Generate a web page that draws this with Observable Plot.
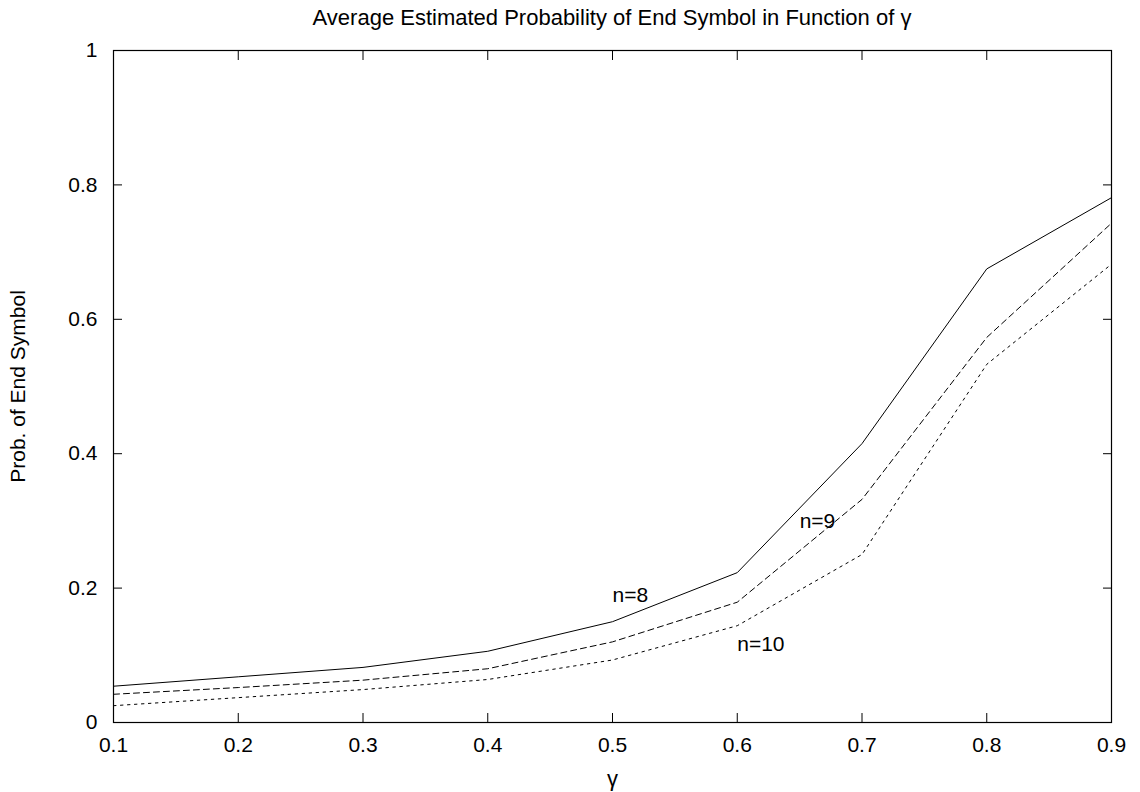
<!DOCTYPE html>
<html>
<head>
<meta charset="utf-8">
<script src="https://cdn.jsdelivr.net/npm/d3@7"></script>
<script src="https://cdn.jsdelivr.net/npm/@observablehq/plot@0.6"></script>
<style>
  html, body { margin: 0; padding: 0; background: #fff; }
  #title { font-family: "Liberation Sans", Arial, sans-serif; font-size: 22px; height: 36px; line-height: 36px;
           padding-left: 113px; width: 998px; text-align: center; color: #000; }
  svg { display: block; }
</style>
</head>
<body>
<div id="title"></div>
<div id="chart"></div>
<script>
const titleText = "Average Estimated Probability of End Symbol in Function of γ";
const xLabel = "γ";
const yLabel = "Prob. of End Symbol";

const gamma = [0.1, 0.2, 0.3, 0.4, 0.5, 0.6, 0.7, 0.8, 0.9];
const n8  = [0.054, 0.068, 0.082, 0.106, 0.150, 0.223, 0.415, 0.675, 0.781];
const n9  = [0.042, 0.052, 0.063, 0.080, 0.120, 0.179, 0.332, 0.573, 0.743];
const n10 = [0.025, 0.037, 0.049, 0.064, 0.093, 0.144, 0.250, 0.533, 0.682];

const xTicks = [0.1, 0.2, 0.3, 0.4, 0.5, 0.6, 0.7, 0.8, 0.9];
const yTicks = [0, 0.2, 0.4, 0.6, 0.8, 1];

const seriesLabels = ["n=8", "n=9", "n=10"];
const labelX = [0.5, 0.65, 0.6];
const labelY = [0.19, 0.30, 0.117];

document.getElementById("title").textContent = titleText;

const rows = (ys) => gamma.map((g, i) => ({x: g, y: ys[i]}));
const labels = seriesLabels.map((t, i) => ({t, x: labelX[i], y: labelY[i]}));

const font = "Liberation Sans, Arial, sans-serif";

const chart = Plot.plot({
  width: 1140,
  height: 756,
  marginLeft: 113,
  marginRight: 29,
  marginTop: 14,
  marginBottom: 70,
  style: {fontFamily: font, fontSize: "21px", color: "#000", background: "#fff"},
  x: {domain: [0.1, 0.9]},
  y: {domain: [0, 1]},
  marks: [
    Plot.frame({stroke: "#000", strokeWidth: 1.2}),
    // inward ticks on all four sides
    Plot.axisX(xTicks, {anchor: "bottom", tickSize: -9, text: null, label: null}),
    Plot.axisX(xTicks, {anchor: "top", tickSize: -9, text: null, label: null}),
    Plot.axisY(yTicks, {anchor: "left", tickSize: -9, text: null, label: null}),
    Plot.axisY(yTicks, {anchor: "right", tickSize: -9, text: null, label: null}),
    // tick labels
    Plot.axisX(xTicks, {anchor: "bottom", tickSize: 0, tickPadding: 15, label: null, tickFormat: d3.format(".1f"), fontSize: 21}),
    Plot.axisY(yTicks, {anchor: "left", tickSize: 0, tickPadding: 16, label: null, tickFormat: d => d === 0 || d === 1 ? String(d) : d3.format(".1f")(d), fontSize: 21}),
    // axis titles
    Plot.text([xLabel], {text: d => d, frameAnchor: "bottom", lineAnchor: "middle", dy: 56, fontSize: 22}),
    Plot.text([yLabel], {text: d => d, frameAnchor: "left", textAnchor: "middle", lineAnchor: "middle", rotate: -90, dx: -95, fontSize: 21}),
    // series
    Plot.line(rows(n8), {x: "x", y: "y", stroke: "#000", strokeWidth: 1}),
    Plot.line(rows(n9), {x: "x", y: "y", stroke: "#000", strokeWidth: 1, strokeDasharray: "6,4"}),
    Plot.line(rows(n10), {x: "x", y: "y", stroke: "#000", strokeWidth: 1, strokeDasharray: "2.5,4.5"}),
    Plot.text(labels, {x: "x", y: "y", text: "t", textAnchor: "start", lineAnchor: "middle", fontSize: 21})
  ]
});
document.getElementById("chart").appendChild(chart);
</script>
</body>
</html>
